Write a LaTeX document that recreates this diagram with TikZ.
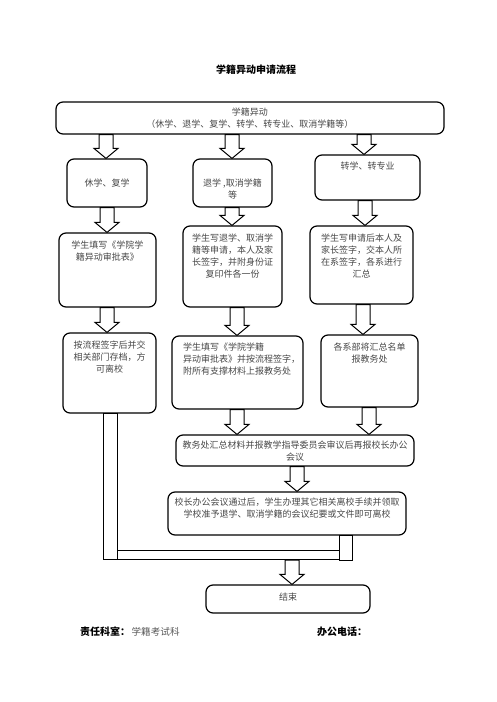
\documentclass[tikz,border=0pt]{standalone}
\usepackage{fontspec}
\setmainfont{Noto Sans CJK SC}
\usetikzlibrary{positioning,calc}
\newcommand{\btext}[4]{\parbox[c][#2pt][t]{#1pt}{\vspace{#3pt}\centering #4}}
\newcommand{\flowarrow}[3]{\draw[barrow] let \p1=(#2), \p2=(#3) in
	(#1pt-7pt,\y1) -- (#1pt+7pt,\y1) -- (#1pt+7pt,\y2+10pt) -- (#1pt+12pt,\y2+10pt)
	-- (#1pt,\y2) -- (#1pt-12pt,\y2+10pt) -- (#1pt-7pt,\y2+10pt) -- cycle;}

\begin{document}
\begin{tikzpicture}[x=1pt,y=-1pt,
	flow/.style={draw, rounded corners=7pt, line width=1.2pt, inner sep=0pt, text=black!72,
		font=\fontsize{9}{12}\selectfont},
	barrow/.style={draw, line width=1pt, fill=white},
	pipe/.style={draw, line width=1pt},
	foot/.style={inner sep=0pt, anchor=west, font=\fontsize{9.6}{12}\selectfont}]
	\useasboundingbox (0,0) rectangle (496,702);
	\node[font=\bfseries\fontsize{10}{12}\selectfont] (title) at (256,70) {学籍异动申请流程};
	\node[flow] (a) at (250,118) {\btext{388}{32}{6}{学籍异动\\（休学、退学、复学、转学、转专业、取消学籍等）}};
	\node[flow] (b) at (107,183) {\btext{80}{48}{20}{休学、复学}};
	\node[flow] (c) at (232.5,183) {\btext{79}{48}{20}{退学 ,取消学籍\\等}};
	\node[flow] (d) at (367.5,177.5) {\btext{105}{45}{7}{转学、转专业}};
	\node[flow] (e) at (107.5,270) {\btext{97}{74}{8}{学生填写《学院学\\籍异动审批表》}};
	\node[flow] (f) at (232.5,266.5) {\btext{99}{81}{8}{学生写退学、取消学\\籍等申请，本人及家\\长签字，并附身份证\\复印件各一份}};
	\node[flow] (g) at (361.5,265) {\btext{103}{78}{8}{学生写申请后本人及\\家长签字，交本人所\\在系签字，各系进行\\汇总}};
	\node[flow] (h) at (109.5,373) {\btext{93}{80}{8}{按流程签字后并交\\相关部门存档，方\\可离校}};
	\node[flow] (i) at (237.5,372.5) {\btext{131}{73}{7}{\raggedright\leftskip=11pt 学生填写《学院学籍\\异动审批表》并按流程签字，\\附所有支撑材料上报教务处}};
	\node[flow] (j) at (369.5,371) {\btext{97}{72}{8}{各系部将汇总名单\\报教务处}};
	\node[flow] (k) at (295,450.5) {\btext{238}{31}{6}{教务处汇总材料并报教学指导委员会审议后再报校长办公\\会议}};
	\node[flow] (l) at (287,513.5) {\btext{238}{43}{6}{校长办公会议通过后，学生办理其它相关离校手续并领取\\学校准予退学、取消学籍的会议纪要或文件即可离校}};
	\node[flow] (m) at (288,599) {\btext{164}{28}{8}{结束}};
	\coordinate (p) at (292,560);
	\flowarrow{106}{a.south}{b.north}
	\flowarrow{232}{a.south}{c.north}
	\flowarrow{364}{a.south}{d.north}
	\flowarrow{107}{b.south}{e.north}
	\flowarrow{232}{c.south}{f.north}
	\flowarrow{365}{d.south}{g.north}
	\flowarrow{107}{e.south}{h.north}
	\flowarrow{237}{f.south}{i.north}
	\flowarrow{363}{g.south}{j.north}
	\flowarrow{237}{i.south}{k.north}
	\flowarrow{369}{j.south}{k.north}
	\flowarrow{297}{k.south}{l.north}
	\draw[pipe] (103,413) rectangle (117,559);
	\draw[pipe] (117,550) -- (339,550) (117,559) -- (339,559);
	\draw[pipe, fill=white] (339,535) rectangle (352,560);
	\flowarrow{292}{p}{m.north}
	\node[foot, font=\bfseries\fontsize{10}{12}\selectfont] (s) at (80,632) {责任科室：};
	\node[foot, text=black!65, right=1pt of s] (t) {学籍考试科};
	\node[foot, font=\bfseries\fontsize{10}{12}\selectfont] (u) at (317,632) {办公电话：};
\end{tikzpicture}
\end{document}
